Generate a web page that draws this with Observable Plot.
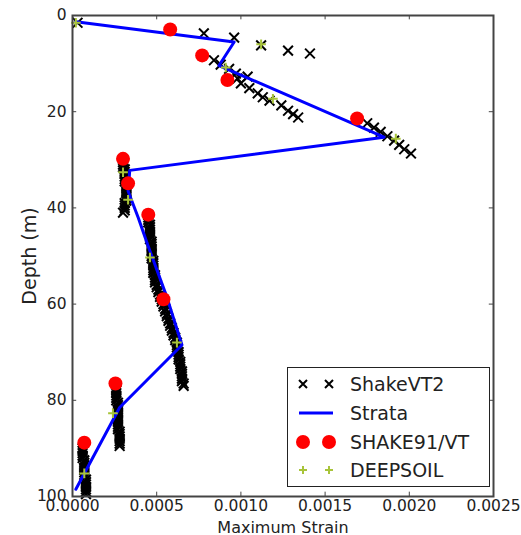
<!DOCTYPE html>
<html><head><meta charset="utf-8">
<script src="https://cdn.jsdelivr.net/npm/d3@7"></script>
<script src="https://cdn.jsdelivr.net/npm/@observablehq/plot@0.6"></script>
<style>
body{margin:0;background:#fff;}
#wrap{position:relative;width:521px;height:535px;font-family:"DejaVu Sans",sans-serif;}
#legend{position:absolute;left:287px;top:367px;width:203px;height:120px;border:1.2px solid #222;background:#fff;box-sizing:border-box;}
.row{position:absolute;left:0;height:28px;display:flex;align-items:center;font-size:19px;color:#222;white-space:nowrap;}
.row svg{display:block;}
</style></head><body><div id="wrap"></div>
<script>
const xTicks = [0, 0.0005, 0.0010, 0.0015, 0.0020, 0.0025];
const yTicks = [0, 20, 40, 60, 80, 100];
const seriesNames = ["ShakeVT2", "Strata", "SHAKE91/VT", "DEEPSOIL"];

const shakeVT2Depth = [1.5,3.7,4.6,6.2,7.3,7.9,9.3,10.2,11.1,12.1,12.7,13.1,14.1,15.1,16.2,17.0,17.7,18.7,19.8,20.5,21.2,22.4,23.3,24.2,25.1,26.0,26.9,27.8,28.7,
  30.0,30.5,31.0,31.5,32.0,32.5,33.0,33.5,34.0,34.5,35.0,35.5,36.0,36.5,37.0,37.5,38.0,38.5,39.0,39.5,40.0,40.5,41.0,
  41.5,42.0,42.5,43.0,43.5,44.0,44.5,45.0,45.5,46.0,46.5,47.0,47.5,48.0,48.5,49.0,49.5,50.0,50.5,51.0,51.5,52.0,52.5,53.0,53.5,54.0,54.5,55.0,55.5,56.0,56.5,57.0,57.5,58.0,58.5,59.0,59.5,60.0,60.5,61.0,61.5,62.0,62.5,63.0,63.5,64.0,64.5,65.0,65.5,66.0,66.5,67.0,67.5,68.0,68.5,69.0,69.5,70.0,70.5,71.0,71.5,72.0,72.5,73.0,73.5,74.0,74.5,75.0,75.5,76.0,76.5,77.0,
  77.5,78.0,78.5,79.0,79.5,80.0,80.5,81.0,81.5,82.0,82.5,83.0,83.5,84.0,84.5,85.0,85.5,86.0,86.5,87.0,87.5,88.0,88.5,89.0,89.5,
  90.0,90.5,91.0,91.5,92.0,92.5,93.0,93.5,94.0,94.5,95.0,95.5,96.0,96.5,97.0,97.5,98.0,98.5,99.0,99.5];
const shakeVT2Strain = [0.00003,0.00078,0.00096,0.00112,0.00128,0.00141,0.00084,0.00088,0.00093,0.00097,0.00104,0.00098,0.00100,0.00105,0.00110,0.00113,0.00117,0.00124,0.00128,0.00131,0.00134,0.00175,0.00179,0.00183,0.00187,0.00191,0.00194,0.00197,0.00201,
  0.00030,0.00030,0.00030,0.00030,0.00031,0.00031,0.00031,0.00031,0.00031,0.00031,0.00032,0.00032,0.00032,0.00032,0.00032,0.00032,0.00032,0.00032,0.00031,0.00031,0.00031,0.00031,0.00030,
  0.00045,0.00045,0.00045,0.00045,0.00046,0.00046,0.00046,0.00046,0.00046,0.00046,0.00046,0.00047,0.00047,0.00047,0.00047,0.00047,0.00047,0.00047,0.00047,0.00048,0.00048,0.00048,0.00048,0.00048,0.00048,0.00049,0.00049,0.00049,0.00049,0.00050,0.00050,0.00051,0.00051,0.00052,0.00052,0.00053,0.00053,0.00054,0.00054,0.00055,0.00055,0.00056,0.00056,0.00057,0.00057,0.00058,0.00058,0.00059,0.00059,0.00060,0.00060,0.00061,0.00061,0.00062,0.00062,0.00062,0.00062,0.00063,0.00063,0.00063,0.00063,0.00064,0.00064,0.00064,0.00064,0.00065,0.00065,0.00065,0.00065,0.00065,0.00066,0.00066,
  0.00026,0.00026,0.00026,0.00026,0.00026,0.00026,0.00027,0.00027,0.00027,0.00027,0.00027,0.00027,0.00027,0.00027,0.00027,0.00027,0.00027,0.00027,0.00028,0.00028,0.00028,0.00028,0.00028,0.00028,0.00028,
  0.00006,0.00006,0.00006,0.00006,0.00006,0.00007,0.00007,0.00007,0.00007,0.00007,0.00007,0.00007,0.00007,0.00008,0.00008,0.00008,0.00008,0.00008,0.00008,0.00008];

const strataDepth  = [1.3, 5.5, 10.4, 25.3, 32.2, 36.5, 42, 48, 58.5, 68.5, 81.5, 98.5];
const strataStrain = [0.00002, 0.00096, 0.00087, 0.00185, 0.00034, 0.00033, 0.00039, 0.00045, 0.00056, 0.00065, 0.00028, 0.00002];

const shake91Depth  = [2.9, 8.3, 13.4, 21.4, 29.8, 34.9, 41.4, 59.0, 76.5, 88.8];
const shake91Strain = [0.00058, 0.00077, 0.00092, 0.00169, 0.00030, 0.00033, 0.00045, 0.00054, 0.000255, 0.00007];

const deepsoilDepth  = [1.5, 6.0, 10.8, 17.3, 25.6, 32.6, 38.3, 50.3, 68.0, 82.7, 95.2];
const deepsoilStrain = [0.00002, 0.00112, 0.00091, 0.00119, 0.00192, 0.00030, 0.00033, 0.00046, 0.00062, 0.00024, 0.00007];

const zip = (xs, ys) => xs.map((x, i) => ({strain: x, depth: ys[i]}));
const shakeVT2 = zip(shakeVT2Strain, shakeVT2Depth);
const strata = zip(strataStrain, strataDepth);
const shake91 = zip(shake91Strain, shake91Depth);
const deepsoil = zip(deepsoilStrain, deepsoilDepth);

const colors = {shakeVT2: "#000000", strata: "#0000ff", shake91: "#ff0000", deepsoil: "#a8c43a"};
const axisColor = "#444";

const chart = Plot.plot({
  width: 521, height: 535,
  marginLeft: 72, marginRight: 28, marginTop: 15, marginBottom: 39,
  style: {fontFamily: "DejaVu Sans, sans-serif", fontSize: "15.5px", color: "#222", background: "#fff"},
  x: {domain: [0, 0.0025]},
  y: {domain: [0, 100], reverse: true},
  marks: [
    Plot.dot(shakeVT2, {x: "strain", y: "depth", symbol: "times", r: 4.5, stroke: colors.shakeVT2, strokeWidth: 2}),
    Plot.line(strata, {x: "strain", y: "depth", stroke: colors.strata, strokeWidth: 3}),
    Plot.dot(shake91, {x: "strain", y: "depth", r: 7, fill: colors.shake91, stroke: "none"}),
    Plot.dot(deepsoil, {x: "strain", y: "depth", symbol: "plus", r: 3.2, stroke: colors.deepsoil, strokeWidth: 2}),
    Plot.axisX(xTicks, {anchor: "bottom", tickSize: 0, tickPadding: 3, tickFormat: d3.format(".4f"), label: null, fill: "#222"}),
    Plot.axisX({anchor: "bottom", ticks: [], label: "Maximum Strain", labelAnchor: "center", labelArrow: "none", labelOffset: 36, fontSize: 16, fill: "#222"}),
    Plot.axisY(yTicks, {anchor: "left", tickSize: 0, tickPadding: 6, tickFormat: d3.format("d"), label: null, fill: "#222"}),
    Plot.axisY({anchor: "left", ticks: [], label: "Depth (m)", labelAnchor: "center", labelArrow: "none", labelOffset: 50, fontSize: 19, fill: "#222"}),
    Plot.ruleX(xTicks, {y1: 0, y2: 0.9, stroke: axisColor}),
    Plot.ruleX(xTicks, {y1: 99.1, y2: 100, stroke: axisColor}),
    Plot.ruleY(yTicks, {x1: 0, x2: 0.000025, stroke: axisColor}),
    Plot.ruleY(yTicks, {x1: 0.002475, x2: 0.0025, stroke: axisColor}),
    Plot.frame({stroke: axisColor, strokeWidth: 2})
  ]
});

const wrap = document.getElementById("wrap");
wrap.appendChild(chart);

// Legend (inside the axes, lower right)
const legend = document.createElement("div");
legend.id = "legend";
const sym = {
  ShakeVT2: `<svg width="56" height="28"><g stroke="${colors.shakeVT2}" stroke-width="2"><path d="M11,10L19,18M19,10L11,18"/><path d="M37,10L45,18M45,10L37,18"/></g></svg>`,
  Strata: `<svg width="56" height="28"><line x1="11" y1="14" x2="45" y2="14" stroke="${colors.strata}" stroke-width="3"/></svg>`,
  "SHAKE91/VT": `<svg width="56" height="28"><circle cx="15" cy="14" r="7" fill="${colors.shake91}"/><circle cx="41" cy="14" r="7" fill="${colors.shake91}"/></svg>`,
  DEEPSOIL: `<svg width="56" height="28"><g stroke="${colors.deepsoil}" stroke-width="2"><path d="M11,14H19M15,10V18"/><path d="M37,14H45M41,10V18"/></g></svg>`
};
const rowTops = [2, 31, 60, 88];
seriesNames.forEach((name, i) => {
  const row = document.createElement("div");
  row.className = "row";
  row.style.top = rowTops[i] + "px";
  row.innerHTML = sym[name] + `<span style="margin-left:6px">${name}</span>`;
  legend.appendChild(row);
});
wrap.appendChild(legend);
</script>
</body></html>
